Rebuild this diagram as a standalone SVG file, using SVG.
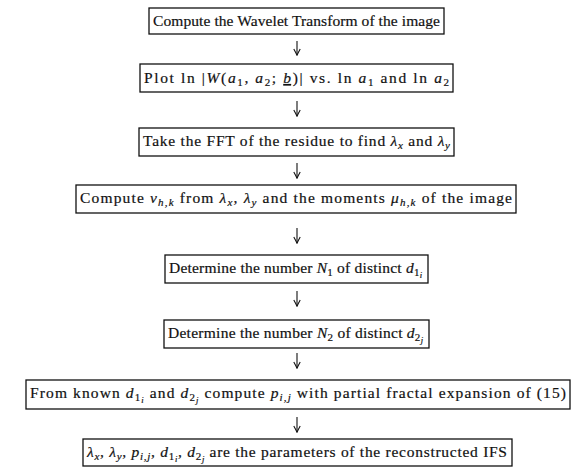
<svg xmlns="http://www.w3.org/2000/svg" width="571" height="471" viewBox="0 0 571 471">
<style>
  .box { fill: #fff; stroke: #111; stroke-width: 1.3; }
  .t { font-family: "Liberation Serif", "DejaVu Serif", serif; font-size: 15.5px; fill: #111; stroke: #111; stroke-width: 0.2; }
  .i { font-style: italic; }
  .s { font-size: 11px; }
  .ss { font-size: 8.5px; }
  .arr { stroke: #111; stroke-width: 1.1; fill: none; marker-end: url(#ah); }
</style>
<defs>
  <marker id="ah" viewBox="0 0 8 8" refX="7" refY="4" markerWidth="8" markerHeight="8" markerUnits="userSpaceOnUse" orient="auto">
    <path d="M1,0.8 Q5,3 7.2,4 Q5,5 1,7.2" fill="none" stroke="#111" stroke-width="1.1"/>
  </marker>
</defs>
<rect width="571" height="471" fill="#fff"/>

<g id="connectors">
  <line class="arr" x1="297" y1="41" x2="297" y2="55"/>
  <line class="arr" x1="297" y1="101" x2="297" y2="116"/>
  <line class="arr" x1="297" y1="163" x2="297" y2="178"/>
  <line class="arr" x1="297" y1="228" x2="297" y2="243"/>
  <line class="arr" x1="297" y1="291" x2="297" y2="306"/>
  <line class="arr" x1="297" y1="353" x2="297" y2="368"/>
  <line class="arr" x1="297" y1="417" x2="297" y2="432"/>
</g>

<g id="n1">
  <rect class="box" x="149" y="8" width="295" height="26"/>
  <text class="t" x="153" y="26" textLength="287" lengthAdjust="spacing">Compute the Wavelet Transform of the image</text>
</g>

<g id="n2">
  <rect class="box" x="140" y="64" width="313" height="28"/>
  <text class="t" x="144" y="83" textLength="305" lengthAdjust="spacing">Plot ln |<tspan class="i">W</tspan>(<tspan class="i">a</tspan><tspan class="s" dy="3">1</tspan><tspan dy="-3">, </tspan><tspan class="i">a</tspan><tspan class="s" dy="3">2</tspan><tspan dy="-3">; </tspan><tspan class="i" text-decoration="underline">b</tspan>)| vs. ln <tspan class="i">a</tspan><tspan class="s" dy="3">1</tspan><tspan dy="-3"> and ln </tspan><tspan class="i">a</tspan><tspan class="s" dy="3">2</tspan></text>
</g>

<g id="n3">
  <rect class="box" x="139" y="128" width="315" height="28"/>
  <text class="t" x="143" y="146" textLength="307" lengthAdjust="spacing">Take the FFT of the residue to find <tspan class="i">λ</tspan><tspan class="s i" dy="3">x</tspan><tspan dy="-3"> and </tspan><tspan class="i">λ</tspan><tspan class="s i" dy="3">y</tspan></text>
</g>

<g id="n4">
  <rect class="box" x="76" y="185" width="440" height="28"/>
  <text class="t" x="80" y="203" textLength="432" lengthAdjust="spacing">Compute <tspan class="i">ν</tspan><tspan class="s i" dy="3">h,k</tspan><tspan dy="-3"> from </tspan><tspan class="i">λ</tspan><tspan class="s i" dy="3">x</tspan><tspan dy="-3">, </tspan><tspan class="i">λ</tspan><tspan class="s i" dy="3">y</tspan><tspan dy="-3"> and the moments </tspan><tspan class="i">μ</tspan><tspan class="s i" dy="3">h,k</tspan><tspan dy="-3"> of the image</tspan></text>
</g>

<g id="n5">
  <rect class="box" x="165" y="255" width="263" height="28"/>
  <text class="t" x="169" y="273" textLength="253" lengthAdjust="spacing">Determine the number <tspan class="i">N</tspan><tspan class="s" dy="3">1</tspan><tspan dy="-3"> of distinct </tspan><tspan class="i">d</tspan><tspan class="s" dy="3">1</tspan><tspan class="ss i" dy="2">i</tspan></text>
</g>

<g id="n6">
  <rect class="box" x="164" y="320" width="265" height="28"/>
  <text class="t" x="168" y="338" textLength="255" lengthAdjust="spacing">Determine the number <tspan class="i">N</tspan><tspan class="s" dy="3">2</tspan><tspan dy="-3"> of distinct </tspan><tspan class="i">d</tspan><tspan class="s" dy="3">2</tspan><tspan class="ss i" dy="2">j</tspan></text>
</g>

<g id="n7">
  <rect class="box" x="26" y="380" width="544" height="29"/>
  <text class="t" x="30" y="398" textLength="536" lengthAdjust="spacing">From known <tspan class="i">d</tspan><tspan class="s" dy="3">1</tspan><tspan class="ss i" dy="2">i</tspan><tspan dy="-5"> and </tspan><tspan class="i">d</tspan><tspan class="s" dy="3">2</tspan><tspan class="ss i" dy="2">j</tspan><tspan dy="-5"> compute </tspan><tspan class="i">p</tspan><tspan class="s i" dy="3">i,j</tspan><tspan dy="-3"> with partial fractal expansion of (15)</tspan></text>
</g>

<g id="n8">
  <rect class="box" x="83" y="439" width="429" height="27"/>
  <text class="t" x="87" y="457" textLength="420" lengthAdjust="spacing"><tspan class="i">λ</tspan><tspan class="s i" dy="3">x</tspan><tspan dy="-3">, </tspan><tspan class="i">λ</tspan><tspan class="s i" dy="3">y</tspan><tspan dy="-3">, </tspan><tspan class="i">p</tspan><tspan class="s i" dy="3">i,j</tspan><tspan dy="-3">, </tspan><tspan class="i">d</tspan><tspan class="s" dy="3">1</tspan><tspan class="ss i" dy="2">i</tspan><tspan dy="-5">, </tspan><tspan class="i">d</tspan><tspan class="s" dy="3">2</tspan><tspan class="ss i" dy="2">j</tspan><tspan dy="-5"> are the parameters of the reconstructed IFS</tspan></text>
</g>
</svg>
